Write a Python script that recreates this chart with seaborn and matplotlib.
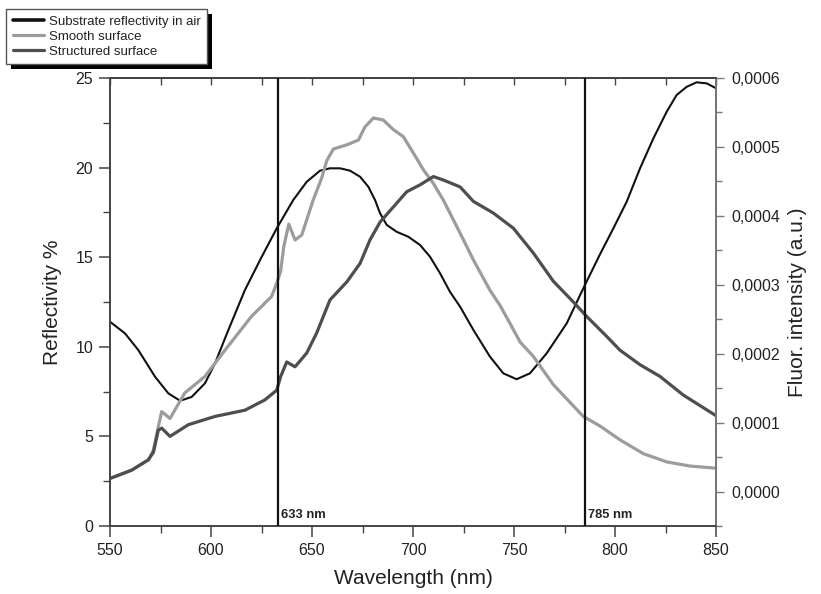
import numpy as np
import matplotlib
matplotlib.use("Agg")
import matplotlib.pyplot as plt
from matplotlib.patches import Rectangle
from matplotlib.ticker import MultipleLocator, FuncFormatter
import seaborn as sns

# Substrate reflectivity in air (left axis, %)
substrate_wl = [550, 557.4, 564, 572.3, 578.9, 584.7, 590.4, 597, 602, 608.6,
                616.8, 625, 632.5, 640.7, 647.4, 654, 658.9, 663.9, 668.8, 673.8,
                677.9, 681.2, 683.7, 687, 691.9, 697.7, 703.5, 708.4, 713.4, 718.3,
                723.3, 729.9, 738.1, 744.7, 751.3, 757.9, 766.2, 776.1, 784.3, 792.6,
                799.2, 805.8, 812.4, 819, 825.6, 830.5, 835.5, 840.4, 845.4, 849.5,
                850]
substrate_refl = [11.4, 10.75, 9.82, 8.33, 7.4, 6.99, 7.2, 7.96, 9.08, 10.94,
                  13.17, 15.0, 16.6, 18.19, 19.21, 19.83, 19.96, 19.96, 19.83, 19.49,
                  18.93, 18.19, 17.45, 16.8, 16.42, 16.14, 15.68, 15.03, 14.1, 13.07,
                  12.24, 10.94, 9.45, 8.52, 8.19, 8.52, 9.64, 11.31, 13.26, 15.17,
                  16.61, 18.1, 19.96, 21.63, 23.12, 24.05, 24.51, 24.76, 24.7, 24.46,
                  24.42]

# Fluorescence, smooth surface (right axis, a.u.)
smooth_wl = [550, 560.7, 569, 571.5, 573.9, 575.6, 579.7, 587, 597, 606.9,
             620, 630, 632.5, 634.5, 636, 638.5, 641.6, 644.9, 650.6, 654.8,
             657.3, 660.6, 667.2, 673, 676.2, 680.4, 685.3, 690.3, 695.2, 700.2,
             705.1, 710.1, 715, 723.3, 729.9, 738.1, 743.1, 748, 753, 759.6,
             769.5, 784.3, 792.6, 802.5, 814, 825.6, 837.1, 849.5, 850]
smooth_fluor = np.array([0.19, 0.31, 0.46, 0.60, 0.94, 1.16, 1.06, 1.43, 1.67, 2.05,
                         2.54, 2.83, 3.02, 3.20, 3.55, 3.88, 3.65, 3.72, 4.23, 4.55,
                         4.80, 4.97, 5.03, 5.10, 5.29, 5.42, 5.39, 5.25, 5.15, 4.91,
                         4.67, 4.47, 4.23, 3.75, 3.36, 2.92, 2.70, 2.44, 2.17, 1.96,
                         1.55, 1.09, 0.95, 0.75, 0.55, 0.43, 0.37, 0.34, 0.33]) * 1e-4

# Fluorescence, structured surface (right axis, a.u.)
structured_wl = [550, 560.7, 569, 571.5, 573.9, 575.6, 579.7, 588.8, 602, 616.8,
                 626.7, 632.5, 634.5, 637.5, 641.6, 647.4, 652.3, 658.9, 667.2, 673.8,
                 678.7, 683.7, 690.3, 696.9, 703.5, 710.1, 715, 723.3, 729.9, 739.8,
                 749.7, 759.6, 769.5, 779.4, 786, 795.9, 802.5, 812.4, 822.3, 833.8,
                 849.5, 850]
structured_fluor = np.array([0.19, 0.31, 0.46, 0.57, 0.89, 0.92, 0.80, 0.97, 1.09, 1.18,
                             1.33, 1.47, 1.67, 1.88, 1.81, 2.01, 2.30, 2.78, 3.04, 3.31,
                             3.65, 3.91, 4.13, 4.35, 4.45, 4.57, 4.52, 4.42, 4.21, 4.04,
                             3.82, 3.46, 3.05, 2.75, 2.54, 2.25, 2.05, 1.84, 1.67, 1.40,
                             1.11, 1.10]) * 1e-4

laser_lines = [633, 785]
series_labels = ["Substrate reflectivity in air", "Smooth surface", "Structured surface"]

sns.set_style("white")
plt.rcParams["font.family"] = ["Liberation Sans", "DejaVu Sans"]

W, H = 821, 594
fig = plt.figure(figsize=(W / 100, H / 100), dpi=100)
ax = fig.add_axes([110 / W, 1 - 526 / H, 606 / W, 448 / H])
ax2 = ax.twinx()

sns.lineplot(x=substrate_wl, y=substrate_refl, ax=ax, color="#111111",
             linewidth=1.5, legend=False)
sns.lineplot(x=smooth_wl, y=smooth_fluor, ax=ax2, color="#9c9c9c",
             linewidth=2.3, legend=False)
sns.lineplot(x=structured_wl, y=structured_fluor, ax=ax2, color="#4e4e4e",
             linewidth=2.3, legend=False)
for ln in ax.get_lines() + ax2.get_lines():
    ln.set_solid_joinstyle("round")

for wl in laser_lines:
    ax2.axvline(wl, color="#111111", linewidth=1.6, zorder=5)
    ax.text(wl + 1.6, 0.3, f"{wl} nm", fontsize=9.3, fontweight="bold",
            color="#222222", ha="left", va="bottom")

ax.set_xlim(550, 850)
ax.set_ylim(0, 25)
ax2.set_ylim(-0.00005, 0.0006)

spine_col = "#444444"
for a in (ax, ax2):
    for s in a.spines.values():
        s.set_color(spine_col)
        s.set_linewidth(1.2)
ax2.spines["right"].set_color("#7a7a7a")

ax.xaxis.set_major_locator(MultipleLocator(50))
ax.xaxis.set_minor_locator(MultipleLocator(25))
ax.yaxis.set_major_locator(MultipleLocator(5))
ax.yaxis.set_minor_locator(MultipleLocator(2.5))
ax2.yaxis.set_major_locator(MultipleLocator(0.0001))
ax2.yaxis.set_minor_locator(MultipleLocator(0.00005))
ax2.yaxis.set_major_formatter(FuncFormatter(
    lambda v, p: f"{v:.4f}".replace(".", ",").replace("-0,0000", "0,0000")))

ax.tick_params(axis="both", which="major", direction="out", length=8, width=1.1,
               color=spine_col, labelsize=11.5, labelcolor="#222222", pad=4,
               left=True, bottom=True)
ax.tick_params(axis="both", which="minor", direction="out", length=5, width=1.0,
               color=spine_col, left=True, bottom=True)
ax2.tick_params(axis="y", which="major", direction="out", length=6, width=1.0,
                color="#7a7a7a", labelsize=11.5, labelcolor="#222222", pad=5)
ax2.tick_params(axis="y", which="minor", direction="out", length=4, width=1.0,
                color="#7a7a7a")

top = ax.secondary_xaxis("top")
top.xaxis.set_major_locator(MultipleLocator(25))
top.tick_params(direction="in", length=5, width=1.0, color=spine_col, labeltop=False)
top.spines["top"].set_color(spine_col)
top.spines["top"].set_linewidth(1.2)

ax.set_xlabel("Wavelength (nm)", fontsize=15, color="#222222", labelpad=8)
ax.set_ylabel("Reflectivity %", fontsize=15, color="#222222", labelpad=10)
ax2.set_ylabel("Fluor. intensity (a.u.)", fontsize=15, color="#222222", labelpad=6)

handles = ax.get_lines()[:1] + ax2.get_lines()[:2]
leg = fig.legend(handles, series_labels, loc="upper left",
                 bbox_to_anchor=(6 / W, 1 - 9 / H), bbox_transform=fig.transFigure,
                 borderaxespad=0, fontsize=9.5, frameon=True, fancybox=False,
                 edgecolor="#555555", framealpha=1, handlelength=2.4,
                 handletextpad=0.35, labelspacing=0.2, borderpad=0.5)
leg.get_frame().set_linewidth(1.0)
leg.get_lines()[0].set_linewidth(2.6)
for t in leg.get_texts():
    t.set_color("#222222")
leg.set_zorder(10)

# black drop shadow behind the legend box
fig.canvas.draw()
bb = leg.get_window_extent()
off = 5
shadow = Rectangle((bb.x0 + off, bb.y0 - off), bb.width, bb.height,
                   transform=None, facecolor="black", edgecolor="none", zorder=9)
fig.add_artist(shadow)

fig.savefig("out.png", dpi=100)
